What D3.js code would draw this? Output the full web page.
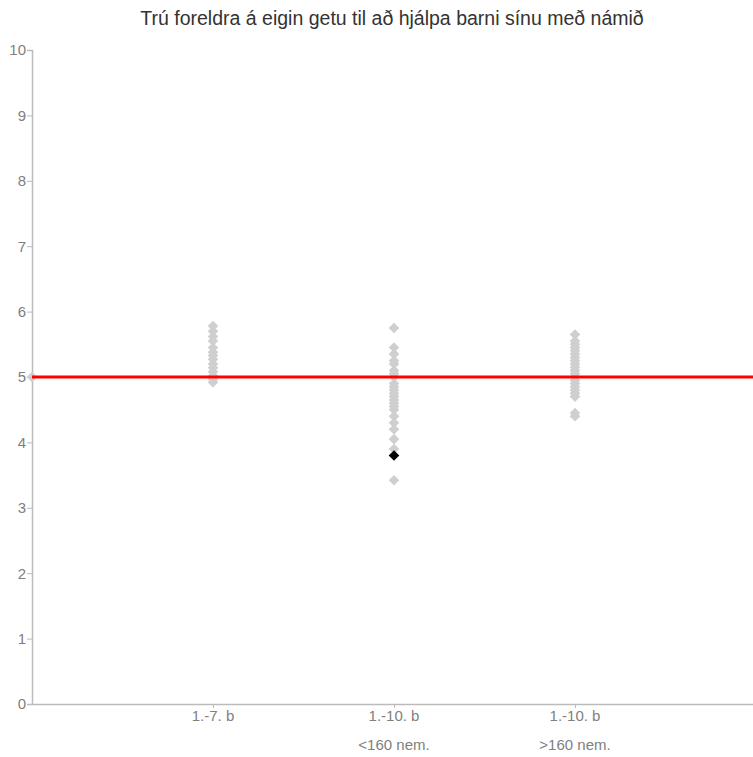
<!DOCTYPE html>
<html>
<head>
<meta charset="utf-8">
<script src="https://cdn.jsdelivr.net/npm/d3@7"></script>
<style>
body{margin:0;background:#fff;}
svg{display:block;font-family:"Liberation Sans",Arial,sans-serif;}
</style>
</head>
<body>
<svg id="c" width="753" height="757"></svg>
<script>
const title = "Trú foreldra á eigin getu til að hjálpa barni sínu með námið";
const categories = [["1.-7. b"], ["1.-10. b", "<160 nem."], ["1.-10. b", ">160 nem."]];
const yTicks = [0,1,2,3,4,5,6,7,8,9,10];
const group1 = [5.78, 5.7, 5.62, 5.55, 5.45, 5.38, 5.33, 5.27, 5.2, 5.14, 5.08, 5.02, 4.97, 4.92];
const group2 = [5.75, 5.45, 5.35, 5.25, 5.2, 5.1, 5.05, 5.0, 4.9, 4.85, 4.8, 4.75, 4.7, 4.65, 4.6, 4.55, 4.5, 4.4, 4.3, 4.2, 4.05, 3.9, 3.42];
const group3 = [5.65, 5.55, 5.5, 5.45, 5.4, 5.35, 5.3, 5.25, 5.2, 5.15, 5.1, 5.05, 5.0, 4.95, 4.9, 4.85, 4.8, 4.75, 4.7, 4.45, 4.4];
const highlight = {group: 2, value: 3.8};
const overall = {x: 0, value: 5};
const referenceLine = 5;

const svg = d3.select("#c");
const m = {left: 32, top: 50, right: 753, bottom: 704};
const x = d3.scaleLinear().domain([0, 4]).range([m.left, m.left + 724]);
const y = d3.scaleLinear().domain([0, 10]).range([m.bottom, m.top]);

svg.append("text").attr("x", 392).attr("y", 25).attr("text-anchor", "middle")
  .attr("font-size", 19.5).attr("fill", "#333").text(title);

// y axis
const ya = svg.append("g").attr("transform", `translate(${m.left},0)`)
  .call(d3.axisLeft(y).tickValues(yTicks).tickSize(5).tickPadding(1).tickFormat(d3.format("d")));
ya.select(".domain").attr("stroke", "#bbb").attr("stroke-width", 1.5);
ya.selectAll(".tick line").attr("stroke", "#bbb");
ya.selectAll(".tick text").attr("fill", "#808080").attr("font-size", 15).attr("font-family", "Liberation Sans, Arial, sans-serif");

// x axis
const xa = svg.append("g").attr("transform", `translate(0,${m.bottom})`)
  .call(d3.axisBottom(x).tickValues([1,2,3]).tickSize(4).tickFormat(() => "").tickSizeOuter(0));
xa.select(".domain").attr("stroke", "#bbb").attr("stroke-width", 1.5);
xa.selectAll(".tick line").attr("stroke", "#bbb");
categories.forEach((lines, i) => {
  lines.forEach((t, j) => {
    svg.append("text").attr("x", x(i + 1)).attr("y", m.bottom + 17 + j * 29)
      .attr("text-anchor", "middle").attr("font-size", 15).attr("fill", "#808080").text(t);
  });
});

const sym = d3.symbol().type(d3.symbolSquare).size(56);
const pts = [];
[group1, group2, group3].forEach((g, i) => g.forEach(v => pts.push({x: i + 1, v})));
pts.push({x: overall.x, v: overall.value});

svg.append("g").selectAll("path").data(pts).join("path")
  .attr("d", sym)
  .attr("transform", d => `translate(${x(d.x)},${y(d.v)}) rotate(45)`)
  .attr("fill", "#cfcfcf");

svg.append("line").attr("x1", m.left).attr("x2", 753)
  .attr("y1", y(referenceLine)).attr("y2", y(referenceLine))
  .attr("stroke", "#f00").attr("stroke-width", 3);

svg.append("path").attr("d", sym)
  .attr("transform", `translate(${x(highlight.group)},${y(highlight.value)}) rotate(45)`)
  .attr("fill", "#000");
</script>
</body>
</html>
